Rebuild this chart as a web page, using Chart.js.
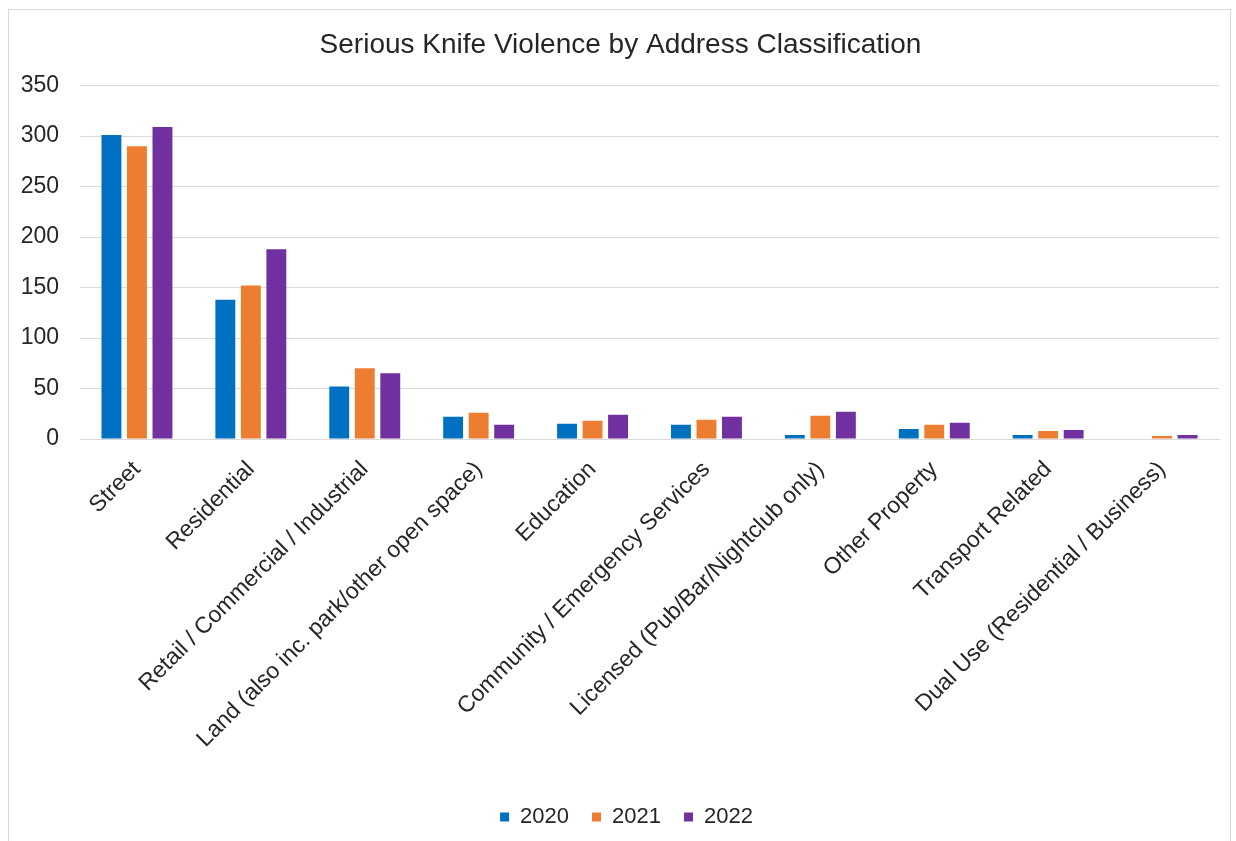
<!DOCTYPE html>
<html>
<head>
<meta charset="utf-8">
<script src="https://cdn.jsdelivr.net/npm/chart.js@4/dist/chart.umd.min.js"></script>
<style>
  html, body { margin: 0; padding: 0; background: #fff; overflow: hidden; }
  #wrap { position: relative; width: 1236px; height: 841px; overflow: hidden; }
  #frame { position: absolute; left: 8px; top: 9px; width: 1223px; height: 840px; border: 1px solid #d9d9d9; border-bottom: none; box-sizing: border-box; }
  canvas { position: absolute; left: 0; top: 0; }
</style>
</head>
<body>
<div id="wrap">
  <div id="frame"></div>
  <canvas id="c" width="1236" height="838"></canvas>
</div>
<script>
const categories = [
  "Street",
  "Residential",
  "Retail / Commercial / Industrial",
  "Land (also inc. park/other open space)",
  "Education",
  "Community / Emergency Services",
  "Licensed (Pub/Bar/Nightclub only)",
  "Other Property",
  "Transport Related",
  "Dual Use (Residential / Business)"
];
const seriesNames = ["2020", "2021", "2022"];
const values2020 = [301, 138, 52, 22, 15, 14, 4, 10, 4, 0];
const values2021 = [290, 152, 70, 26, 18, 19, 23, 14, 8, 3];
const values2022 = [309, 188, 65, 14, 24, 22, 27, 16, 9, 4];
const yTicks = [0, 50, 100, 150, 200, 250, 300, 350];
const colors = ["#0070C0", "#ED7D31", "#7030A0"];

const FONT = "'Liberation Sans', Arial, sans-serif";
const TEXT = "#262626";

const shiftBlocks = {
  id: 'shiftBlocks',
  afterLayout(chart) {
    if (chart.legend) { chart.legend.left += 17; chart.legend.right += 17; }
    if (chart.titleBlock) { chart.titleBlock.left += 11; chart.titleBlock.right += 11; }
  }
};

new Chart(document.getElementById('c'), {
  type: 'bar',
  data: {
    labels: categories,
    datasets: [values2020, values2021, values2022].map((v, i) => ({
      label: seriesNames[i],
      data: v,
      backgroundColor: colors[i],
      borderWidth: 0,
      categoryPercentage: 0.672,
      barPercentage: 0.78
    }))
  },
  options: {
    responsive: false,
    animation: false,
    layout: { padding: { left: 0, right: 17, top: 0, bottom: 0 } },
    plugins: {
      title: {
        display: true,
        text: "Serious Knife Violence by Address Classification",
        color: TEXT,
        font: { family: FONT, size: 28, weight: 'normal' },
        padding: { top: 28, bottom: 24 }
      },
      legend: {
        position: 'bottom',
        labels: {
          color: TEXT,
          font: { family: FONT, size: 22 },
          boxWidth: 9,
          boxHeight: 9,
          padding: 23
        }
      },
      tooltip: { enabled: false }
    },
    scales: {
      y: {
        min: 0,
        max: 350,
        afterBuildTicks: (s) => { s.ticks = yTicks.map(v => ({ value: v })); },
        afterFit: (s) => { s.width = 80; },
        ticks: { color: TEXT, font: { family: FONT, size: 23 }, padding: 21 },
        grid: { color: "#d9d9d9", lineWidth: 1, drawTicks: false },
        border: { display: false }
      },
      x: {
        afterFit: (s) => { s.height = 344; },
        ticks: {
          color: TEXT,
          font: { family: FONT, size: 23 },
          minRotation: 45,
          maxRotation: 45,
          autoSkip: false,
          padding: 17
        },
        grid: { display: false, drawTicks: false },
        border: { display: true, color: "#d9d9d9", width: 1 }
      }
    }
  },
  plugins: [shiftBlocks]
});
</script>
</body>
</html>
